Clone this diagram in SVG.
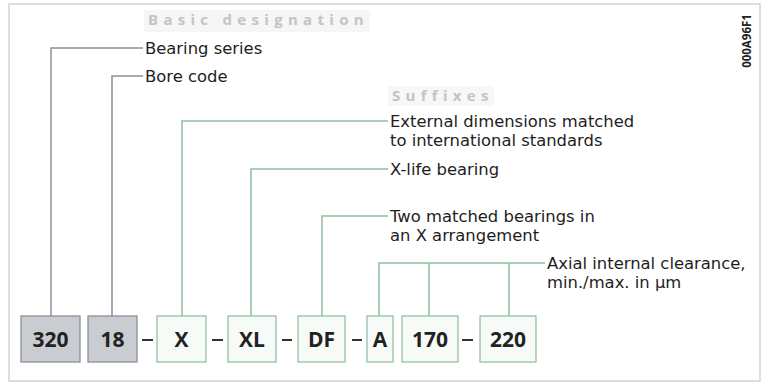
<svg xmlns="http://www.w3.org/2000/svg" width="763" height="383" viewBox="0 0 763 383">
<style>
.lbl{font-family:"DejaVu Sans","Liberation Sans",sans-serif;font-size:16.4px;fill:#1e1e1e}
.hdr{font-family:"Open Sans","Liberation Sans",sans-serif;font-size:15px;font-weight:bold;fill:#c4c4c4;letter-spacing:5.3px}
.code{font-family:"Open Sans","Liberation Sans",sans-serif;font-size:21px;font-weight:bold;fill:#222;text-anchor:middle}
.gbox{fill:#c9ccd1;stroke:#8d9096;stroke-width:1.3}
.sbox{fill:#f7fbf7;stroke:#93c0a2;stroke-width:1.3}
.gl{fill:none;stroke:#8e9097;stroke-width:1.5}
.sl{fill:none;stroke:#8fbf9f;stroke-width:1.5}
.dash{stroke:#333;stroke-width:2}
</style>
<rect x="9" y="4" width="751" height="377" fill="#fff" stroke="#cfd6cf" stroke-width="1.5"/>
<rect x="144" y="10" width="226" height="22" fill="#f6f6f6"/>
<text class="hdr" x="148" y="25">Basic designation</text>
<rect x="388" y="86" width="106" height="20" fill="#f7f7f7"/>
<text class="hdr" x="392" y="101">Suffixes</text>
<text x="751" y="41" transform="rotate(-90 751 41)" text-anchor="middle" font-family="'Open Sans','Liberation Sans',sans-serif" font-size="11.5" font-weight="bold" fill="#222">000A96F1</text>
<g id="connectors">
<path class="gl" d="M51 316V48H143"/>
<path class="gl" d="M112 316V76H143"/>
<path class="sl" d="M182 316V121H388"/>
<path class="sl" d="M251 316V169H388"/>
<path class="sl" d="M322 316V216H388"/>
<path class="sl" d="M379 316V263H545M429 316V263M509 316V263"/>
<line class="dash" x1="142" y1="340" x2="153" y2="340"/>
<line class="dash" x1="212" y1="340" x2="223" y2="340"/>
<line class="dash" x1="282" y1="340" x2="292" y2="340"/>
<line class="dash" x1="352" y1="340" x2="362" y2="340"/>
<line class="dash" x1="462" y1="340" x2="473" y2="340"/>
</g>
<g id="t-series"><text class="lbl" x="145" y="54">Bearing series</text></g>
<g id="t-bore"><text class="lbl" x="145" y="82">Bore code</text></g>
<g id="t-ext"><text class="lbl" x="390" y="127">External dimensions matched</text><text class="lbl" x="390" y="146">to international standards</text></g>
<g id="t-xlife"><text class="lbl" x="390" y="175">X-life bearing</text></g>
<g id="t-df"><text class="lbl" x="390" y="222">Two matched bearings in</text><text class="lbl" x="390" y="241">an X arrangement</text></g>
<g id="t-axial"><text class="lbl" x="547" y="269">Axial internal clearance,</text><text class="lbl" x="547" y="288">min./max. in µm</text></g>
<g id="n320"><rect class="gbox" x="21" y="316" width="59" height="46"/><text class="code" x="50.5" y="347">320</text></g>
<g id="n18"><rect class="gbox" x="88" y="316" width="49" height="46"/><text class="code" x="112.5" y="347">18</text></g>
<g id="nX"><rect class="sbox" x="157" y="316" width="49" height="46"/><text class="code" x="181.5" y="347">X</text></g>
<g id="nXL"><rect class="sbox" x="228" y="316" width="48" height="46"/><text class="code" x="252" y="347">XL</text></g>
<g id="nDF"><rect class="sbox" x="298" y="316" width="47" height="46"/><text class="code" x="321.5" y="347">DF</text></g>
<g id="nA"><rect class="sbox" x="367" y="316" width="26" height="46"/><text class="code" x="380" y="347">A</text></g>
<g id="n170"><rect class="sbox" x="402" y="316" width="56" height="46"/><text class="code" x="430" y="347">170</text></g>
<g id="n220"><rect class="sbox" x="480" y="316" width="56" height="46"/><text class="code" x="508" y="347">220</text></g>
</svg>
